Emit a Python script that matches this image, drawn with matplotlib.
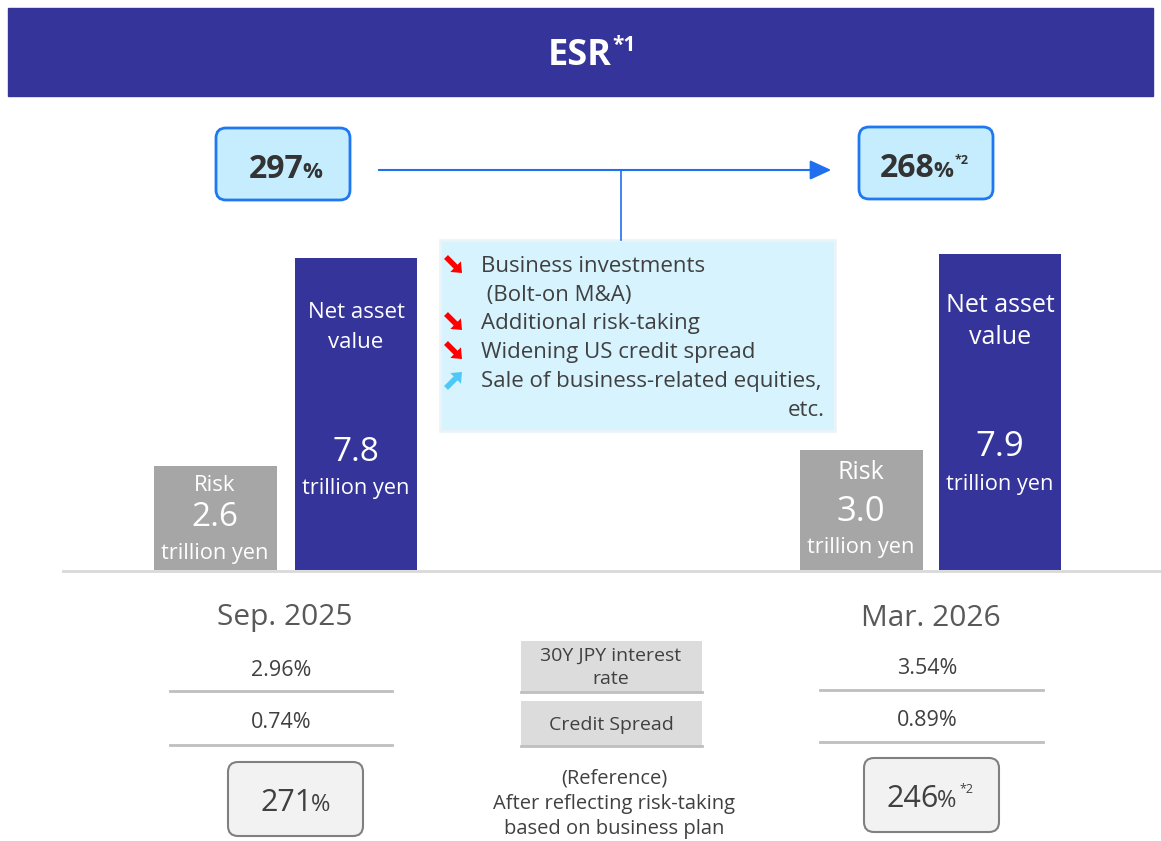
import matplotlib.pyplot as plt
from matplotlib.patches import Rectangle, FancyBboxPatch

plt.rcParams['font.family'] = ['Open Sans', 'DejaVu Sans']

# data
periods = ['Sep. 2025', 'Mar. 2026']
risk = [2.6, 3.0]
nav = [7.8, 7.9]
jpy_30y = ['2.96%', '3.54%']
credit_spread = ['0.74%', '0.89%']
esr_main = ['297', '268']
esr_ref = ['271', '246']
esr_note = ['', '*2']
factors = ['Business investments', ' (Bolt-on M&A)', 'Additional risk-taking',
           'Widening US credit spread', 'Sale of business-related equities,']
factor_dir = ['down', '', 'down', 'down', 'up']

W, H = 1161, 841
NAVY = '#35349A'
GREY_BAR = '#A6A6A6'
DARK = '#404040'

fig = plt.figure(figsize=(W / 100, H / 100), dpi=100)

# bar axes: baseline at y=570px, 40px per trillion yen
base = 570
bax = fig.add_axes([0, (H - base) / H, 1, base / H])
bax.set_xlim(0, W)
bax.set_ylim(0, base / 40)
bax.axis('off')
risk_x = [215, 861]
nav_x = [356, 1000]
bax.bar(risk_x, risk, width=123, color=GREY_BAR)
bax.bar(nav_x, nav, width=122, color=NAVY)

# overlay axes in pixel coords
ax = fig.add_axes([0, 0, 1, 1])
ax.set_xlim(0, W)
ax.set_ylim(H, 0)
ax.axis('off')
ax.patch.set_alpha(0)

# header
ax.add_patch(Rectangle((8, 8), 1145, 88, color=NAVY))
ax.text(612, 56, 'ESR', color='white', fontsize=26, fontweight='bold', ha='right', va='center')
ax.text(612, 45, '*1', color='white', fontsize=15, fontweight='bold', ha='left', va='center')

# top ESR boxes
for (x0, y0), val, note, jx in zip([(216, 128), (859, 127)], esr_main, esr_note, [304, 935]):
    ax.add_patch(FancyBboxPatch((x0, y0), 134, 72, boxstyle='round,pad=0,rounding_size=10',
                                fc='#C5EDFE', ec='#1F78F2', lw=2))
    yb = y0 + 50
    ax.text(jx, yb, val, fontsize=23, fontweight='bold', color='#333333', ha='right', va='baseline')
    ax.text(jx - 2, yb, '%', fontsize=16, fontweight='bold', color='#333333', ha='left', va='baseline')
    if note:
        ax.text(jx + 20, yb - 13, note, fontsize=9, fontweight='bold', color='#333333', ha='left', va='baseline')

# arrow and connector
ax.annotate('', xy=(834, 170), xytext=(376, 170),
            arrowprops=dict(arrowstyle='-|>,head_length=1.3,head_width=0.6', color='#1F6FEF', lw=1.5))
ax.plot([621, 621], [170, 240], color='#1F6FEF', lw=1.2)

# factors box
ax.add_patch(Rectangle((440, 240), 395, 191, fc='#D6F3FE', ec='#EAF4F8', lw=2))
ys = [266, 295, 323, 352, 381]
for y, txt, d in zip(ys, factors, factor_dir):
    if d == 'down':
        ax.arrow(446, y - 9, 16, 16, width=5.5, head_width=15, head_length=9,
                 length_includes_head=True, color='#FF0000', lw=0)
    elif d == 'up':
        ax.arrow(446, y + 7, 16, -16, width=5.5, head_width=15, head_length=9,
                 length_includes_head=True, color='#4FC8F5', lw=0)
    ax.text(481, y, txt, fontsize=16, color=DARK, ha='left', va='center')
ax.text(825, 410, 'etc.', fontsize=16, color=DARK, ha='right', va='center')

# bar labels
bar_fs = [16, 18]
num_fs = [24, 25]
yen_fs = [15.7, 15.7]
risk_lab_y = [(485, 518, 553), (472, 512, 548)]
nav_lab_y = [(313, 342, 452, 488), (305, 337, 447, 484)]
for i in range(2):
    ry = risk_lab_y[i]
    ax.text(risk_x[i], ry[0], 'Risk', color='white', fontsize=bar_fs[i], ha='center', va='center')
    ax.text(risk_x[i], ry[1], f'{risk[i]:.1f}', color='white', fontsize=num_fs[i], ha='center', va='center')
    ax.text(risk_x[i], ry[2], 'trillion yen', color='white', fontsize=yen_fs[i], ha='center', va='center')
    ny = nav_lab_y[i]
    ax.text(nav_x[i], ny[0], 'Net asset', color='white', fontsize=bar_fs[i], ha='center', va='center')
    ax.text(nav_x[i], ny[1], 'value', color='white', fontsize=bar_fs[i], ha='center', va='center')
    ax.text(nav_x[i], ny[2], f'{nav[i]:.1f}', color='white', fontsize=num_fs[i], ha='center', va='center')
    ax.text(nav_x[i], ny[3], 'trillion yen', color='white', fontsize=yen_fs[i], ha='center', va='center')

# baseline
ax.plot([63, 1161], [571, 571], color='#D9D9D9', lw=2)

# bottom table
col_x = [285, 931]
line_x = [(170, 392), (820, 1043)]
rate_y = [(670, 691, 723, 745), (669, 690, 721, 742)]
for i in range(2):
    ax.text(col_x[i], 618, periods[i], fontsize=21.5, color='#595959', ha='center', va='center')
    ry = rate_y[i]
    ax.text(col_x[i] - 4, ry[0], jpy_30y[i], fontsize=15.5, color=DARK, ha='center', va='center')
    ax.plot(line_x[i], [ry[1], ry[1]], color='#BFBFBF', lw=2)
    ax.text(col_x[i] - 4, ry[2], credit_spread[i], fontsize=15.5, color=DARK, ha='center', va='center')
    ax.plot(line_x[i], [ry[3], ry[3]], color='#BFBFBF', lw=2)

for (y0, y1), lab in zip([(641, 692), (701, 746)], ['30Y JPY interest\nrate', 'Credit Spread']):
    ax.add_patch(Rectangle((521, y0), 181, y1 - y0, fc='#DCDCDC', ec='none'))
    ax.plot([521, 702], [y1, y1], color='#BFBFBF', lw=2)
    ax.text(611, (y0 + y1) / 2 + 1, lab, fontsize=14, color=DARK, ha='center', va='center', linespacing=1.4)

# reference ESR boxes
for (x0, y0), val, note, jx in zip([(228, 762), (864, 758)], esr_ref, esr_note, [313, 939]):
    ax.add_patch(FancyBboxPatch((x0, y0), 135, 74, boxstyle='round,pad=0,rounding_size=10',
                                fc='#F2F2F2', ec='#808080', lw=1.5))
    yb = y0 + 49
    ax.text(jx, yb, val, fontsize=22, color=DARK, ha='right', va='baseline')
    ax.text(jx - 2, yb, '%', fontsize=17, color=DARK, ha='left', va='baseline')
    if note:
        ax.text(jx + 20, yb - 14, note, fontsize=9, color=DARK, ha='left', va='baseline')

ax.text(614, 804, '(Reference)\nAfter reflecting risk-taking\nbased on business plan',
        fontsize=14.5, color=DARK, ha='center', va='center', linespacing=1.35)

fig.savefig('out.png', dpi=100)
